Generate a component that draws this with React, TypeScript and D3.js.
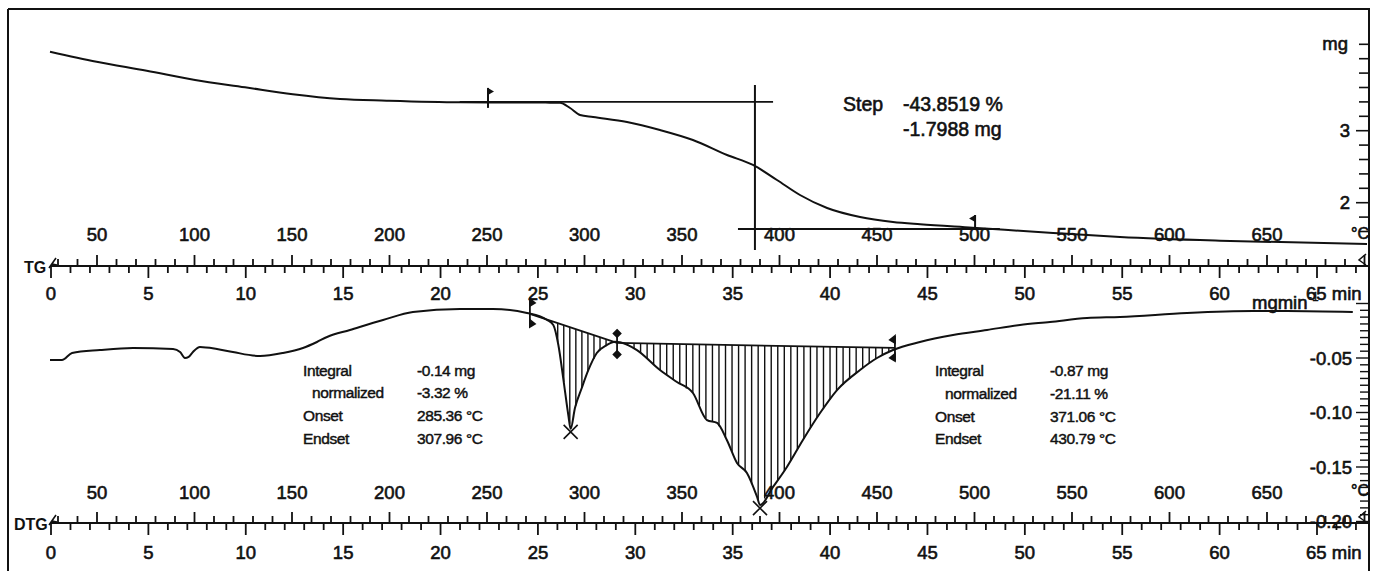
import React from 'react';
import * as d3 from 'd3';

const W = 1379;
const H = 571;

// ---- axis labels ----
const tempLabels = [50, 100, 150, 200, 250, 300, 350, 400, 450, 500, 550, 600, 650];
const timeLabels = [0, 5, 10, 15, 20, 25, 30, 35, 40, 45, 50, 55, 60, 65];
const tgAxisLabels = [2, 3];
const dtgAxisLabels = [-0.05, -0.1, -0.15, -0.2];

// ---- TG curve (temperature °C, mass mg) ----
const tgTemp = [25.9, 49.8, 75.5, 100.3, 125.9, 150.4, 174.6, 198.6, 236.2, 260.0, 280.0, 287.4, 292.6, 297.7, 304.4, 321.8, 338.7, 355.6, 373.1, 386.4, 398.7, 410.5, 424.4, 441.3, 458.2, 472.1, 499.0, 540.3, 574.6, 625.9, 701.3];
const tgMass = [4.097, 3.958, 3.833, 3.704, 3.603, 3.506, 3.44, 3.417, 3.394, 3.392, 3.39, 3.389, 3.315, 3.218, 3.19, 3.121, 3.01, 2.871, 2.663, 2.524, 2.315, 2.107, 1.926, 1.801, 1.732, 1.7, 1.653, 1.579, 1.524, 1.472, 1.426];

// ---- DTG curve (temperature °C, rate mg/min) ----
const dtgTemp = [25.9, 32.0, 37.2, 51.5, 68.5, 89.0, 92.6, 95.1, 97.0, 99.2, 102.8, 111.5, 119.7, 133.6, 145.4, 155.6, 162.8, 168.0, 179.7, 196.7, 212.0, 236.2, 253.1, 270.5, 280.8, 284.0, 286.6, 289.1, 291.7, 292.9, 295.1, 298.6, 302.0, 306.3, 311.4, 315.6, 318.2, 326.9, 338.7, 347.4, 355.6, 362.8, 368.0, 373.0, 378.2, 383.3, 388.5, 390.0, 396.7, 403.8, 412.0, 420.8, 429.5, 441.3, 450.0, 458.2, 472.0, 489.0, 506.4, 523.3, 538.7, 557.7, 574.6, 609.0, 642.8, 660.3, 694.0];
const dtgRate = [-0.0518, -0.0518, -0.0454, -0.0427, -0.0408, -0.0417, -0.0445, -0.05, -0.049, -0.0445, -0.0399, -0.0417, -0.0445, -0.0482, -0.0454, -0.0408, -0.0353, -0.0307, -0.0243, -0.0151, -0.0078, -0.005, -0.005, -0.0087, -0.0151, -0.0197, -0.0381, -0.0686, -0.1023, -0.115, -0.0959, -0.0775, -0.061, -0.0454, -0.0381, -0.035, -0.0355, -0.0427, -0.061, -0.072, -0.0821, -0.1069, -0.1096, -0.1252, -0.1463, -0.1555, -0.1775, -0.1849, -0.1683, -0.15, -0.1252, -0.1005, -0.0794, -0.061, -0.05, -0.0427, -0.0353, -0.0289, -0.0243, -0.0197, -0.017, -0.0133, -0.0124, -0.0087, -0.0069, -0.0069, -0.0078];

// ---- TG step evaluation ----
const stepUpperT = [236, 396.7];
const stepUpperMass = 3.4;
const stepLowerT = [378.7, 513];
const stepLowerMass = 1.635;
const stepMidT = 387.4;
const stepMidMass = [3.635, 1.343];
const stepFlagT = [250.5, 500.3];
const stepLabel = 'Step';
const stepValues = ['-43.8519 %', '-1.7988 mg'];

// ---- DTG peak integrations ----
const base1T = [272, 316.7];
const base1V = [-0.0096, -0.0362];
const base2T = [316.7, 459.2];
const base2V = [-0.0362, -0.0408];
const peakMinT = [292.9, 390.0];
const peakMinV = [-0.115, -0.185];
const resultNames = ['Integral', 'normalized', 'Onset', 'Endset'];
const peak1Values = ['-0.14 mg', '-3.32 %', '285.36 °C', '307.96 °C'];
const peak2Values = ['-0.87 mg', '-21.11 %', '371.06 °C', '430.79 °C'];

const FONT = 'Liberation Sans, Arial, Helvetica, sans-serif';

export default function App() {
  const xT = d3.scaleLinear().domain([50, 650]).range([97, 1267]);
  const xTime = d3.scaleLinear().domain([0, 65]).range([51, 1317]);
  const yTG = d3.scaleLinear().domain([2, 3]).range([202.7, 130.7]);
  const yDTG = d3.scaleLinear().domain([-0.2, -0.05]).range([521.5, 358]);

  const TG_AXIS_Y = 266;
  const DTG_AXIS_Y = 523;
  const RIGHT_X = 1369;

  const tgLine = d3.line<number>().x((_, i) => xT(tgTemp[i])).y((d) => yTG(d)).curve(d3.curveMonotoneX);
  const dtgLine = d3.line<number>().x((_, i) => xT(dtgTemp[i])).y((d) => yDTG(d)).curve(d3.curveMonotoneX);

  const dtgInterp = d3.scaleLinear().domain(dtgTemp).range(dtgRate);

  const hatch = (bT: number[], bV: number[], step: number) => {
    const base = d3.scaleLinear().domain(bT).range(bV);
    const out: { x: number; y1: number; y2: number }[] = [];
    for (let t = bT[0] + step * 0.6; t < bT[1]; t += step) {
      const vb = base(t);
      const vc = dtgInterp(t);
      if (vc < vb - 0.001) out.push({ x: xT(t), y1: yDTG(vb), y2: yDTG(vc) });
    }
    return out;
  };
  const hatches = [...hatch(base1T, base1V, 3.1), ...hatch(base2T, base2V, 3.35)];

  const tempTicks = d3.range(30, 701, 10);
  const timeTicks = d3.range(0, 68, 1);
  const tgRightTicks = d3.range(16, 43, 2).map((d) => d / 10);
  const dtgRightTicks = d3.range(0, 33).map((i) => -i * 0.00625);

  const tickLabelStyle = { fontFamily: FONT, fontSize: 18.5, fill: '#111', stroke: '#111', strokeWidth: 0.6 } as const;
  const annStyle = { fontFamily: FONT, fontSize: 15.5, fill: '#111', stroke: '#111', strokeWidth: 0.45, letterSpacing: -0.4 } as const;

  const axisGroup = (axisY: number, label: string, labelX: number, tempLabelY: number, timeLabelY: number) => (
    <g>
      <line x1={50} x2={RIGHT_X} y1={axisY} y2={axisY} stroke="#111" strokeWidth={2} />
      {tempTicks.map((t) => (
        <line key={'tt' + t} x1={xT(t)} x2={xT(t)} y1={axisY} y2={axisY - (t % 50 === 0 ? 11 : 7)} stroke="#111" strokeWidth={1.8} />
      ))}
      {timeTicks.map((t) => (
        <line key={'tm' + t} x1={xTime(t)} x2={xTime(t)} y1={axisY} y2={axisY + (t % 5 === 0 ? 12 : 7)} stroke="#111" strokeWidth={1.8} />
      ))}
      {tempLabels.map((t) => (
        <text key={'tl' + t} x={xT(t)} y={tempLabelY} textAnchor="middle" style={tickLabelStyle}>{t}</text>
      ))}
      {timeLabels.map((t) =>
        t === 65 ? (
          <text key={'ml' + t} x={xTime(t) - 11} y={timeLabelY} style={tickLabelStyle}>65 min</text>
        ) : (
          <text key={'ml' + t} x={xTime(t)} y={timeLabelY} textAnchor="middle" style={tickLabelStyle}>{t}</text>
        )
      )}
      <text x={labelX} y={axisY + 7} style={{ fontFamily: FONT, fontSize: 16, fontWeight: 'bold', fill: '#111' }}>{label}</text>
      <path d={`M${49},${axisY + 2} L${56},${axisY - 8} M${52},${axisY - 2} L${57},${axisY - 1}`} stroke="#111" strokeWidth={1.6} fill="none" />
      <text x={1351} y={axisY - 27} style={{ ...tickLabelStyle, fontSize: 16 }}>°C</text>
      <path d={`M${1366},${axisY - 12} L${1359},${axisY - 6} L${1366},${axisY - 1}`} stroke="#111" strokeWidth={1.5} fill="none" />
    </g>
  );

  const flag = (x: number, yTop: number, yBot: number, dir: number, key: string) => (
    <g key={key}>
      <line x1={x} x2={x} y1={yTop} y2={yBot} stroke="#111" strokeWidth={2} />
      <path d={`M${x},${yTop} L${x + 6 * dir},${yTop + 3.5} L${x},${yTop + 7} Z`} fill="#111" />
    </g>
  );

  const m1x = xT(base1T[0]);
  const m1y = yDTG(base1V[0]);
  const m2x = xT(base1T[1]);
  const m2y = yDTG(base1V[1]);
  const m3x = xT(base2T[1]);
  const m3y = yDTG(base2V[1]);

  return (
    <div style={{ position: 'fixed', left: 0, top: 0, width: W, height: H, background: '#fff' }}>
      <svg width={W} height={H} viewBox={`0 0 ${W} ${H}`}>
        <rect x={0} y={0} width={W} height={H} fill="#fff" />
        {/* frame */}
        <line x1={8} x2={1370} y1={9} y2={9} stroke="#111" strokeWidth={2} />
        <line x1={8} x2={8} y1={9} y2={H} stroke="#111" strokeWidth={2} />
        <line x1={RIGHT_X} x2={RIGHT_X} y1={9} y2={H} stroke="#111" strokeWidth={2} />

        {/* right TG axis */}
        {tgRightTicks.map((v) => (
          <line key={'rt' + v} x1={Math.abs(v - 2) < 1e-6 || Math.abs(v - 3) < 1e-6 ? 1356 : 1359} x2={RIGHT_X} y1={yTG(v)} y2={yTG(v)} stroke="#111" strokeWidth={1.6} />
        ))}
        {tgAxisLabels.map((v) => (
          <text key={'rl' + v} x={1350} y={yTG(v) + 6.5} textAnchor="end" style={tickLabelStyle}>{v}</text>
        ))}
        <text x={1348} y={yTG(4.2) + 6} textAnchor="end" style={tickLabelStyle}>mg</text>

        {/* right DTG axis */}
        {dtgRightTicks.map((v, i) => (
          <line key={'dt' + i} x1={i % 8 === 0 ? 1356 : 1360} x2={RIGHT_X} y1={yDTG(v)} y2={yDTG(v)} stroke="#111" strokeWidth={1.4} />
        ))}
        {dtgAxisLabels.map((v) => (
          <text key={'dl' + v} x={1352} y={yDTG(v) + 6.5} textAnchor="end" style={tickLabelStyle}>{v.toFixed(2)}</text>
        ))}
        <text x={1252} y={309} style={tickLabelStyle}>mgmin</text>
        <text x={1308} y={301} style={{ ...tickLabelStyle, fontSize: 12, strokeWidth: 0.3 }}>-1</text>

        {/* axes */}
        {axisGroup(TG_AXIS_Y, 'TG', 24, 241, 300)}
        {axisGroup(DTG_AXIS_Y, 'DTG', 14, 498.5, 558.5)}

        {/* TG step evaluation */}
        <line x1={xT(stepUpperT[0])} x2={xT(stepUpperT[1])} y1={yTG(stepUpperMass)} y2={yTG(stepUpperMass)} stroke="#111" strokeWidth={1.8} />
        <line x1={xT(stepLowerT[0])} x2={xT(stepLowerT[1])} y1={yTG(stepLowerMass)} y2={yTG(stepLowerMass)} stroke="#111" strokeWidth={1.8} />
        <line x1={xT(stepMidT)} x2={xT(stepMidT)} y1={yTG(stepMidMass[0])} y2={yTG(stepMidMass[1])} stroke="#111" strokeWidth={2} />
        {flag(xT(stepFlagT[0]), yTG(stepUpperMass) - 14, yTG(stepUpperMass) + 6, 1, 'f1')}
        {flag(xT(stepFlagT[1]), yTG(stepLowerMass) - 14, yTG(stepLowerMass), -1, 'f2')}
        <path d={tgLine(tgMass) || ''} fill="none" stroke="#111" strokeWidth={2} />
        <text x={843} y={111} style={{ ...tickLabelStyle, fontSize: 19.5 }}>{stepLabel}</text>
        {stepValues.map((s, i) => (
          <text key={'sv' + i} x={903} y={111 + i * 25} style={{ ...tickLabelStyle, fontSize: 19.5 }}>{s}</text>
        ))}

        {/* DTG */}
        {hatches.map((h, i) => (
          <line key={'h' + i} x1={h.x} x2={h.x} y1={h.y1} y2={h.y2} stroke="#111" strokeWidth={1.4} />
        ))}
        <line x1={m1x} x2={m2x} y1={m1y} y2={m2y} stroke="#111" strokeWidth={1.8} />
        <line x1={m2x} x2={m3x} y1={m2y} y2={m3y} stroke="#111" strokeWidth={1.8} />
        <path d={dtgLine(dtgRate) || ''} fill="none" stroke="#111" strokeWidth={2} />
        {/* boundary markers */}
        <g stroke="#111" strokeWidth={1.8} fill="#111">
          <line x1={m1x} x2={m1x} y1={m1y - 15} y2={m1y + 13} />
          <path d={`M${m1x},${m1y - 15} L${m1x + 5},${m1y - 11} L${m1x},${m1y - 8} Z`} />
          <path d={`M${m1x},${m1y + 6} L${m1x + 5},${m1y + 10} L${m1x},${m1y + 13} Z`} />
          <line x1={m2x} x2={m2x} y1={m2y - 11} y2={m2y + 15} />
          <path d={`M${m2x},${m2y - 13} L${m2x + 3.5},${m2y - 9.5} L${m2x},${m2y - 6} L${m2x - 3.5},${m2y - 9.5} Z`} />
          <path d={`M${m2x},${m2y + 8} L${m2x + 3.5},${m2y + 11.5} L${m2x},${m2y + 15} L${m2x - 3.5},${m2y + 11.5} Z`} />
          <line x1={m3x} x2={m3x} y1={m3y - 12} y2={m3y + 13} />
          <path d={`M${m3x},${m3y - 12} L${m3x - 5},${m3y - 8} L${m3x},${m3y - 5} Z`} />
          <path d={`M${m3x},${m3y + 6} L${m3x - 5},${m3y + 10} L${m3x},${m3y + 13} Z`} />
        </g>
        {peakMinT.map((t, i) => {
          const cx = xT(t);
          const cy = yDTG(peakMinV[i]) + 3;
          return (
            <path key={'x' + i} d={`M${cx - 7},${cy - 7} L${cx + 7},${cy + 7} M${cx - 7},${cy + 7} L${cx + 7},${cy - 7}`} stroke="#111" strokeWidth={1.6} />
          );
        })}

        {/* integration results */}
        {resultNames.map((n, i) => (
          <text key={'n1' + i} x={i === 1 ? 312 : 303} y={375.5 + i * 22.8} style={annStyle}>{n}</text>
        ))}
        {peak1Values.map((v, i) => (
          <text key={'v1' + i} x={417} y={375.5 + i * 22.8} style={annStyle}>{v}</text>
        ))}
        {resultNames.map((n, i) => (
          <text key={'n2' + i} x={i === 1 ? 945 : 935} y={376 + i * 22.8} style={annStyle}>{n}</text>
        ))}
        {peak2Values.map((v, i) => (
          <text key={'v2' + i} x={1050} y={376 + i * 22.8} style={annStyle}>{v}</text>
        ))}
      </svg>
    </div>
  );
}
